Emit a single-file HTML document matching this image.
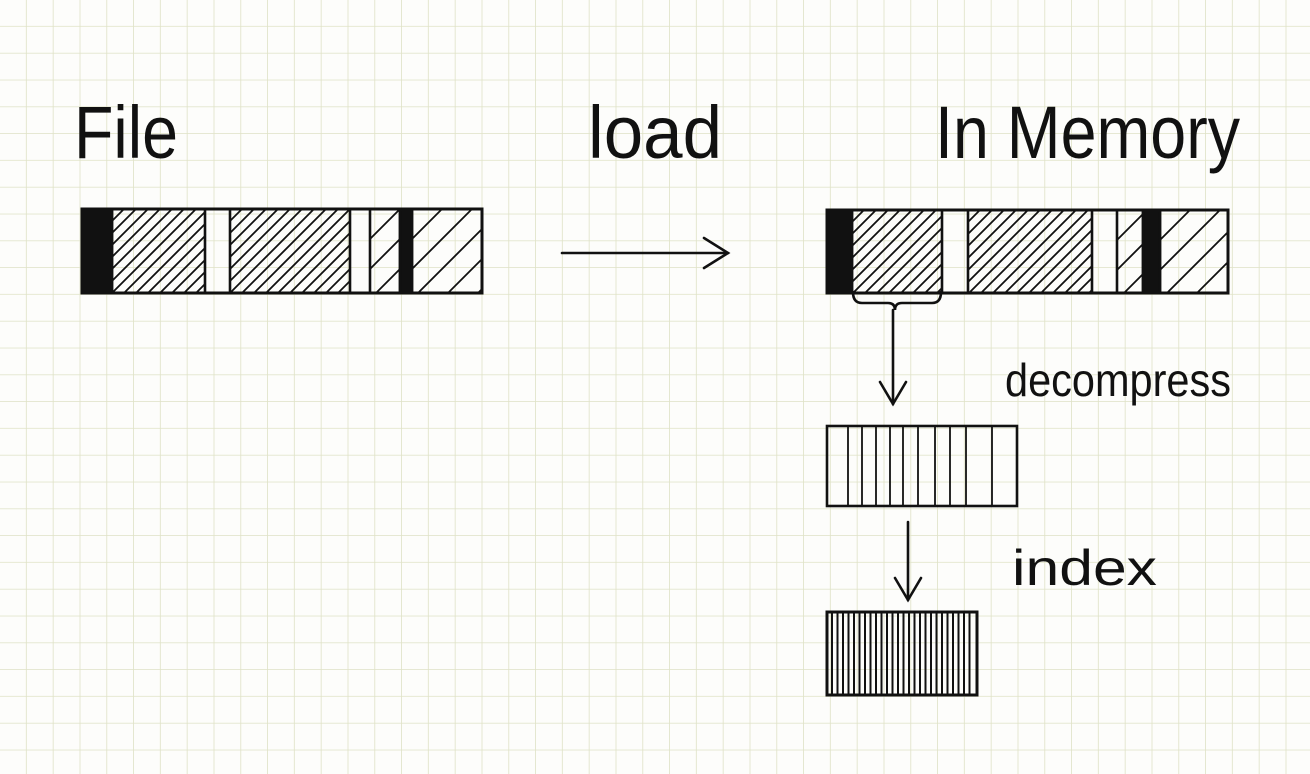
<!DOCTYPE html>
<html><head><meta charset="utf-8"><style>
html,body{margin:0;padding:0;background:#fdfdfb;}
svg{display:block;}
text{font-family:"Liberation Sans",sans-serif;fill:#111;}
</style></head><body>
<svg id="s" width="1310" height="774" viewBox="0 0 1310 774">
<defs>
<pattern id="grid" width="26.8" height="26.8" patternUnits="userSpaceOnUse" x="0" y="0">
<path d="M26.8 0V26.8M0 26.8H26.8" stroke="#dfe2c6" stroke-width="1.6" fill="none"/>
</pattern>
</defs>
<rect width="1310" height="774" fill="url(#grid)"/>
<g id="g" stroke="#111" stroke-width="2.6" fill="none" stroke-linecap="round"></g>
<text x="74" y="158" font-size="74" textLength="104" lengthAdjust="spacingAndGlyphs">File</text>
<text x="588" y="158" font-size="74" textLength="134" lengthAdjust="spacingAndGlyphs">load</text>
<text x="935" y="158" font-size="74" textLength="305" lengthAdjust="spacingAndGlyphs">In Memory</text>
<text x="1005" y="396" font-size="46" textLength="226" lengthAdjust="spacingAndGlyphs">decompress</text>
<text x="1012" y="585" font-size="50" textLength="145" lengthAdjust="spacingAndGlyphs">index</text>
</svg>
<script>
const fileSegments=[["black",82,112],["hatch",112,205],["white",205,230],["hatch",230,350],["white",350,370],["sparse",370,400],["black",400,412],["sparse",412,482]];
const memSegments=[["black",827,852],["hatch",852,942],["white",942,968],["hatch",968,1092],["white",1092,1117],["sparse",1117,1143],["black",1143,1160],["sparse",1160,1228]];
const g=document.getElementById('g');
const NS='http://www.w3.org/2000/svg';
function el(t,a){const e=document.createElementNS(NS,t);for(const k in a)e.setAttribute(k,a[k]);g.appendChild(e);return e;}
function hatchRect(x0,x1,y0,y1,step){
  const h=y1-y0;
  for(let s=x0-h;s<x1;s+=step){
    // line from (s,y1) to (s+h,y0), clipped
    let ax=s,ay=y1,bx=s+h,by=y0;
    if(ax<x0){ay=y1-(x0-ax);ax=x0;}
    if(bx>x1){by=y0+(bx-x1);bx=x1;}
    if(bx-ax<2)continue;
    const l=el('line',{x1:ax,y1:ay,x2:bx,y2:by,'stroke-width':1.8});
    
    
  }
}
function bar(segs,y0,y1,name){
  segs.forEach(([k,a,b])=>{
    if(k==='black'){const r=el('rect',{x:a,y:y0,width:b-a,height:y1-y0,fill:'#111'});
      }
    else if(k==='hatch')hatchRect(a,b,y0,y1,12);
    else if(k==='sparse')hatchRect(a,b,y0,y1,30);
    const v=el('line',{x1:a,y1:y0,x2:a,y2:y1});
    
  });
  const x0=segs[0][1],x1=segs[segs.length-1][2];
  const r=el('rect',{x:x0,y:y0,width:x1-x0,height:y1-y0,'stroke-width':3});
  
}
bar(fileSegments,209,293,'file-bar');
bar(memSegments,210,293,'memory-bar');
function arrow(x1,y1,x2,y2,name,vertical){
  const l=el('line',{x1,y1,x2,y2});
  
  const p=vertical?`M${x2-13} ${y2-22}L${x2} ${y2}L${x2+13} ${y2-22}`:`M${x2-24} ${y2-15}L${x2} ${y2}L${x2-24} ${y2+15}`;
  const h=el('path',{d:p});
  
}
arrow(562,253,728,253,'load-arrow',false);
const br=el('path',{d:'M853 292Q853 303 862 303L888 303Q895 303 895 310Q895 303 902 303L932 303Q941 303 941 292'});

arrow(893,310,893,404,'decompress-arrow',true);
arrow(908,522,908,600,'index-arrow',true);
// decompressed box
const decLines=[848,862,876,890,903,918,935,950,966,992];
decLines.forEach(x=>{const l=el('line',{x1:x,y1:427,x2:x,y2:505,'stroke-width':1.8});
  });
const db=el('rect',{x:827,y:426,width:190,height:80,'stroke-width':2.6});

// index box dense
for(let x=832;x<975;x+=5.5){const l=el('line',{x1:x,y1:613,x2:x,y2:694,'stroke-width':2});
  }
const ib=el('rect',{x:827,y:612,width:150,height:83,'stroke-width':3});

</script>
</body></html>
